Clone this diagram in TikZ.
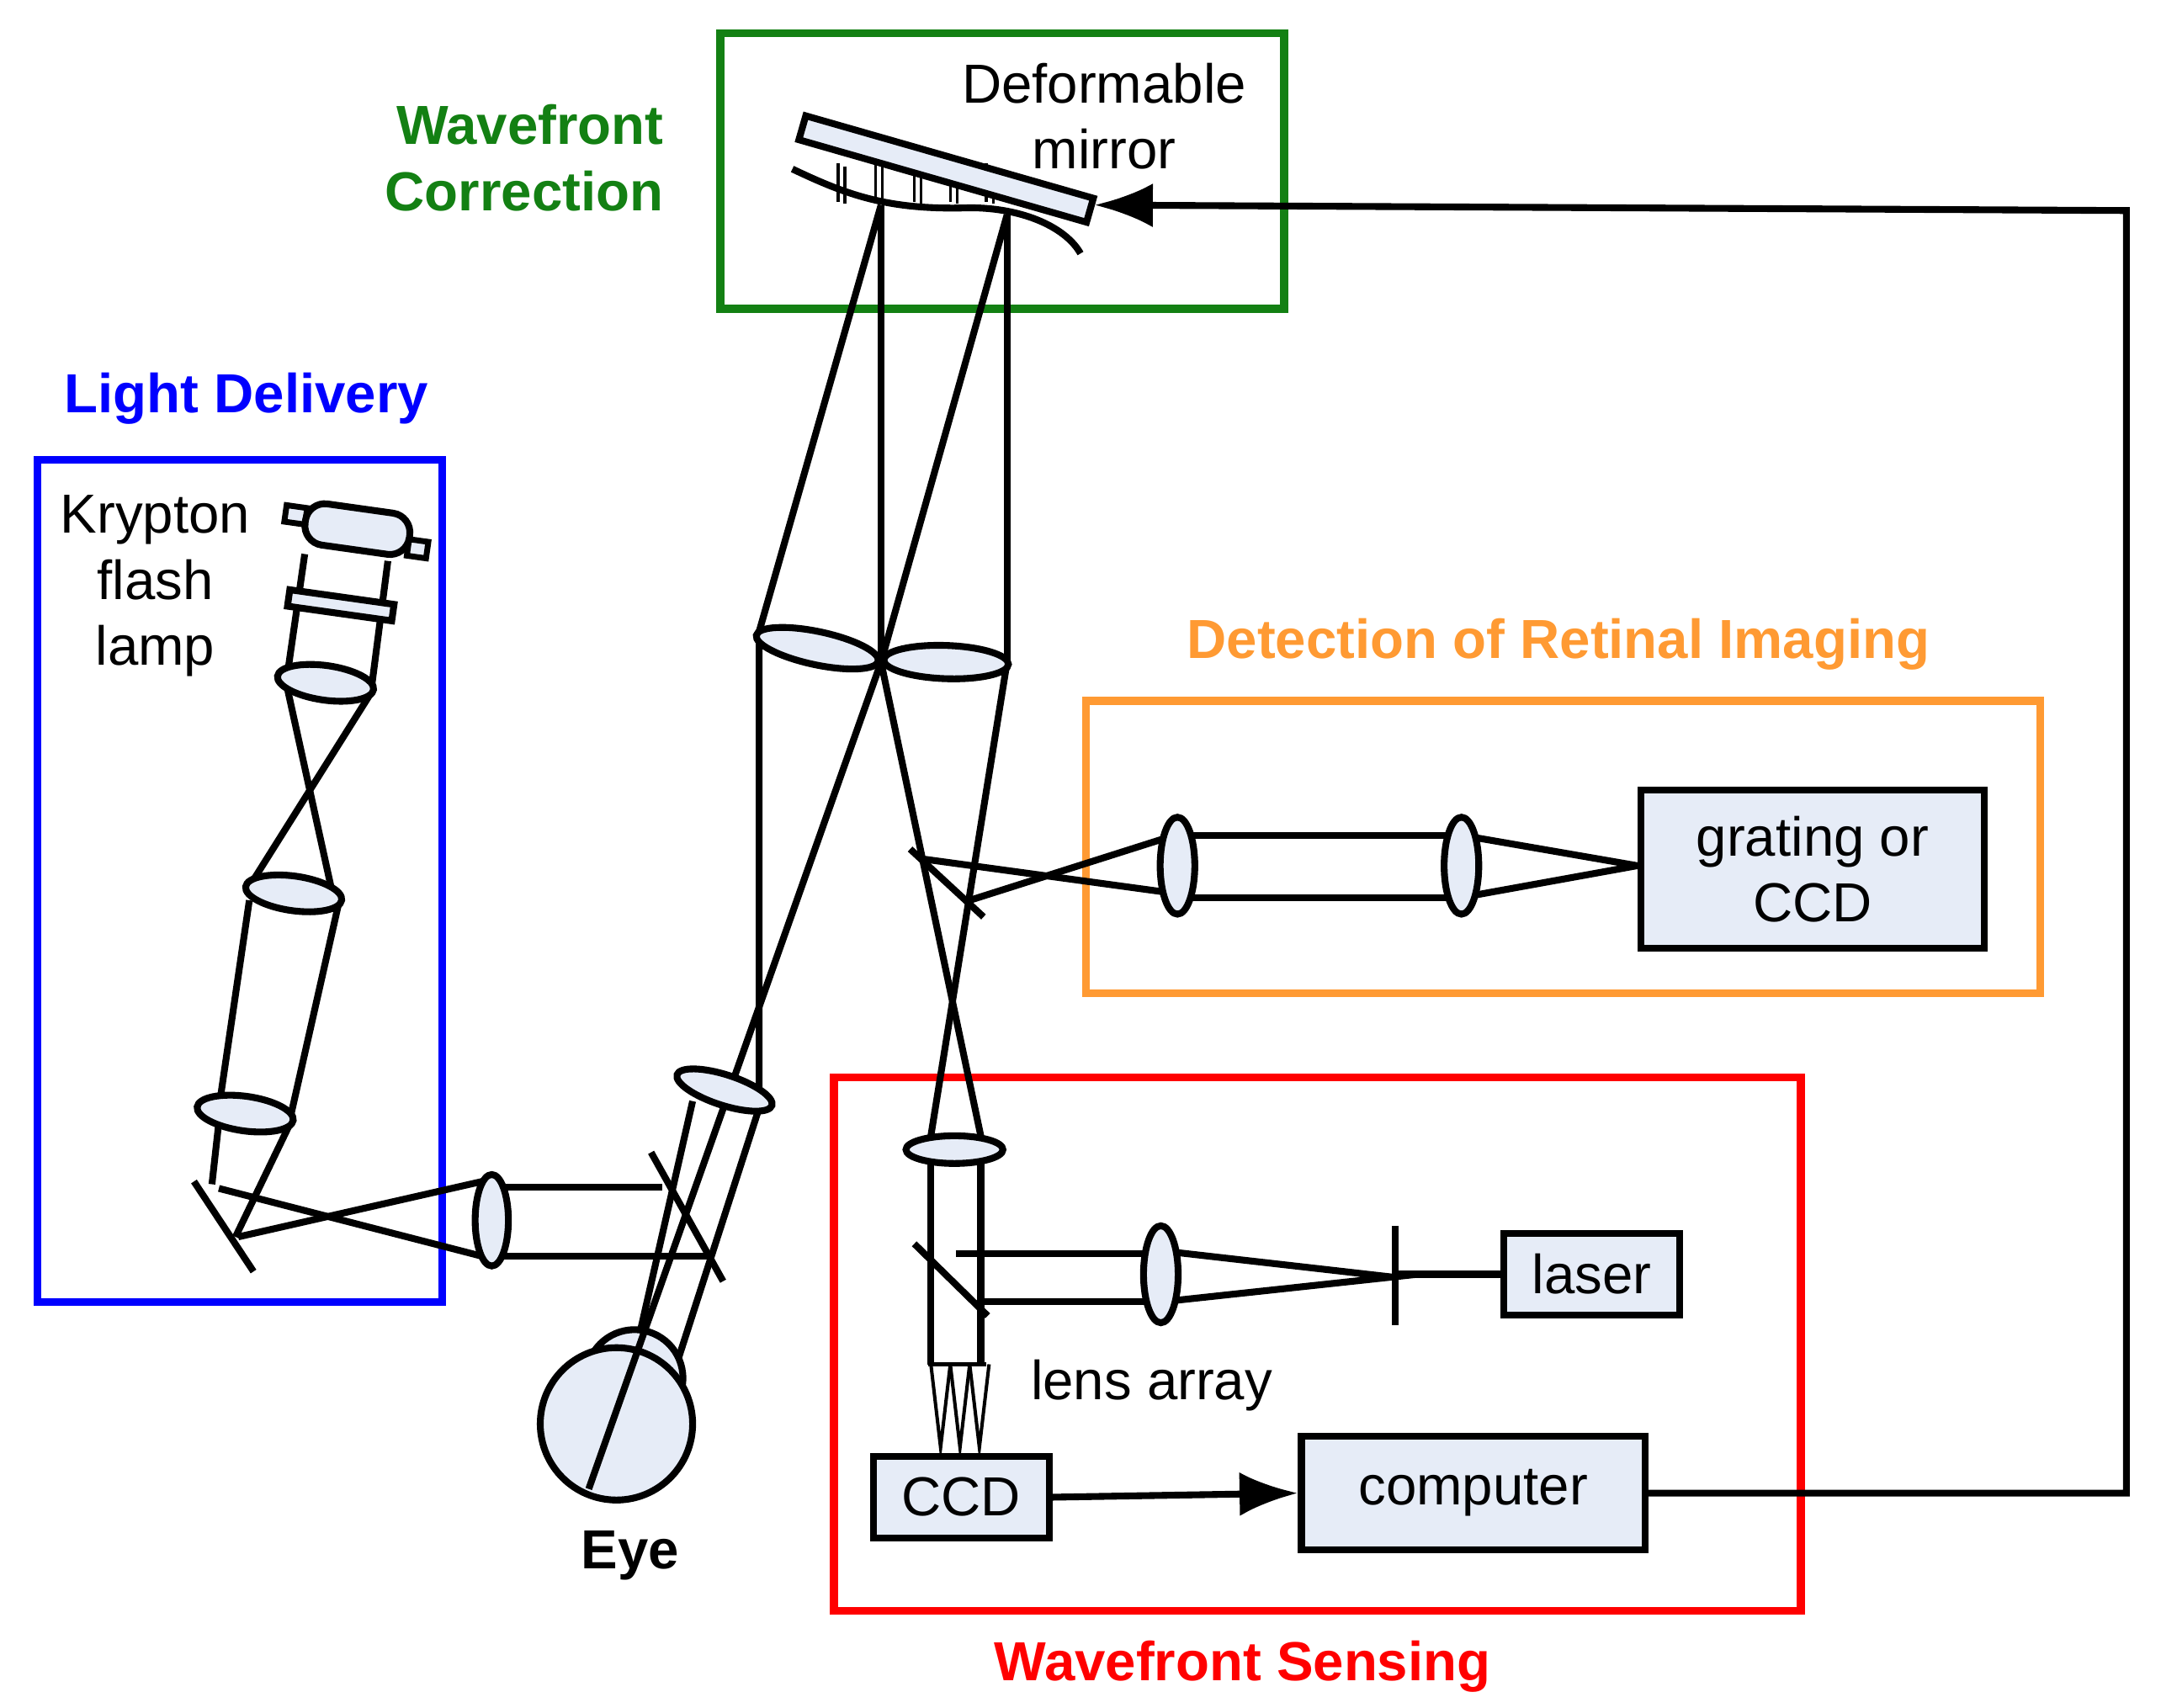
\documentclass[tikz,border=0pt]{standalone}
\usepackage{fontspec}
\setmainfont{Liberation Sans}
\usetikzlibrary{shapes.geometric,arrows.meta}
\definecolor{lb}{HTML}{E6ECF7}
\definecolor{dg}{HTML}{138013}
\definecolor{org}{HTML}{FF9A33}
\begin{document}
\begin{tikzpicture}[x=0.1mm,y=-0.1mm,line width=1.4pt,
  lens/.style={draw,fill=lb,ellipse,inner sep=0pt},
  box/.style={draw,fill=lb,inner sep=0pt},
  frame/.style={line width=1.6pt},
  lbl/.style={font=\fontsize{11.3}{13.5}\selectfont,align=center},
  blbl/.style={font=\fontsize{11.3}{13.5}\selectfont\bfseries,align=center}]
\useasboundingbox (0,0) rectangle (1560,1233);
% frames
\draw[frame,dg] (520,24) rectangle (927,223);
\draw[frame,blue] (27,332) rectangle (319,940);
\draw[frame,org] (784,506) rectangle (1473,717);
\draw[frame,red] (602,778) rectangle (1300,1163);
\node[blbl,dg,align=right,anchor=east] (tc) at (493,114) {Wavefront\\Correction};
\node[blbl,blue] (tl) at (178,288) {Light Delivery};
\node[blbl,org] (to) at (1125,465) {Detection of Retinal Imaging};
\node[blbl,red] (tr) at (897,1203) {Wavefront Sensing};
% deformable mirror
\draw (572,122) .. controls (610,140) and (640,152) .. (700,150) .. controls (740,150) and (770,165) .. (780,183);
\foreach \x in {605,632,660,686,712}{ \draw[line width=0.6pt] (\x,118) -- (\x,146); \draw[line width=0.6pt] (\x+5,120) -- (\x+5,147);}
\node[box,minimum width=21.6mm,minimum height=1.8mm,rotate=-16] (dm) at (683,122) {};
\node[lbl] (dmt) at (797,84) {Deformable\\mirror};
% beams from mirror
\draw (636,148) -- (548,456) -- (548,785);
\draw (636,148) -- (636,478);
\draw (727,155) -- (727,478);
\draw (636,478) -- (708,820);
\draw (727,478) -- (672,820);
\node[lens,minimum width=9mm,minimum height=2.4mm,rotate=-12] (l1) at (590,468) {};
\node[lens,minimum width=9mm,minimum height=2.4mm,rotate=-2] (l2) at (683,478) {};
% eye
\draw[fill=lb] (458,995) circle (35);
\draw[fill=lb] (445,1028) circle (55);
\draw (500,795) -- (462,962);
\draw (548,800) -- (490,980);
\draw (727,155) -- (636,478) -- (425,1075);
\node[lens,minimum width=7.2mm,minimum height=2.2mm,rotate=-18] (l3) at (523,787) {};
\node[blbl] (eye) at (455,1123) {Eye};
% beam splitter near eye and light delivery
\draw (355,857) -- (478,857);
\draw (355,907) -- (515,907);
\draw (470,832) -- (522,925);
\node[lens,minimum width=2.4mm,minimum height=6.6mm] (l4) at (355,881) {};
\draw (172,893) -- (348,853);
\draw (158,858) -- (348,907);
\draw (140,853) -- (183,918);
% lamp column
\draw (220,400) -- (207,490);
\draw (280,405) -- (268,498);
\draw[fill=lb,line width=1.2pt,rotate around={-8:(258,382)}] (205,372) rectangle (220,384) (296,384) rectangle (310,396);
\node[draw,fill=lb,rounded corners=4pt,minimum width=7.6mm,minimum height=3mm,rotate=-8] (lamp) at (258,382) {};
\node[draw,fill=lb,minimum width=7.6mm,minimum height=1.2mm,inner sep=0pt,rotate=-8] (band) at (246,437) {};
\node[lbl] (kt) at (112,423) {Krypton\\flash\\lamp};
\draw (207,495) -- (240,645);
\draw (268,500) -- (180,640);
\node[lens,minimum width=7mm,minimum height=2.5mm,rotate=-8] (l5) at (235,493) {};
\draw (180,650) -- (158,800);
\draw (245,650) -- (210,805);
\node[lens,minimum width=7mm,minimum height=2.5mm,rotate=-8] (l6) at (212,645) {};
\draw (158,810) -- (153,855);
\draw (210,810) -- (170,893);
\node[lens,minimum width=7mm,minimum height=2.5mm,rotate=-8] (l7) at (177,804) {};
% detection
\draw (665,620) -- (848,645);
\draw (700,650) -- (848,603);
\draw (657,613) -- (710,662);
\draw (850,603) -- (1055,603);
\draw (850,648) -- (1055,648);
\draw (1055,603) -- (1182,625) -- (1055,648);
\node[lens,minimum width=2.5mm,minimum height=7mm] (l8) at (850,625) {};
\node[lens,minimum width=2.5mm,minimum height=7mm] (l9) at (1055,625) {};
\node[box,lbl,minimum width=24.8mm,minimum height=11.4mm,anchor=north west] (gr) at (1182,568) {grating or\\CCD};
% sensing
\draw (672,830) -- (672,985);
\draw (708,830) -- (708,985);
\node[lens,minimum width=7mm,minimum height=2mm] (l10) at (689,830) {};
\draw (690,905) -- (836,905);
\draw (708,940) -- (836,940);
\draw (660,898) -- (713,950);
\draw (838,903) -- (1005,922) -- (838,940);
\node[lens,minimum width=2.5mm,minimum height=7mm] (l11) at (838,920) {};
\draw (1007,885) -- (1007,957);
\node[box,lbl,minimum width=12.7mm,minimum height=5.9mm,anchor=west] (laser) at (1083,920) {laser};
\draw (1007,920) -- (laser.west);
\foreach \x in {672,686,700}{ \draw[line width=0.7pt] (\x,985) -- (\x+7,1045) -- (\x+14,985);}
\draw[line width=0.7pt] (670,985) -- (712,985);
\node[lbl,anchor=west] (la) at (730,1000) {lens array};
\node[box,lbl,minimum width=12.7mm,minimum height=5.9mm,anchor=north west] (ccd) at (628,1049) {CCD};
\node[box,lbl,minimum width=24.8mm,minimum height=8.2mm,anchor=west] (comp) at (937,1078) {computer};
\draw[-{Latex[length=12pt,width=9pt]}] (ccd.east) -- (comp.west);
\coordinate (c1) at (1535,1078);
\coordinate (c2) at (1535,152);
\draw[-{Latex[length=12pt,width=9pt]}] (comp.east) -- (c1) -- (c2) -- (790,148);
\end{tikzpicture}
\end{document}
